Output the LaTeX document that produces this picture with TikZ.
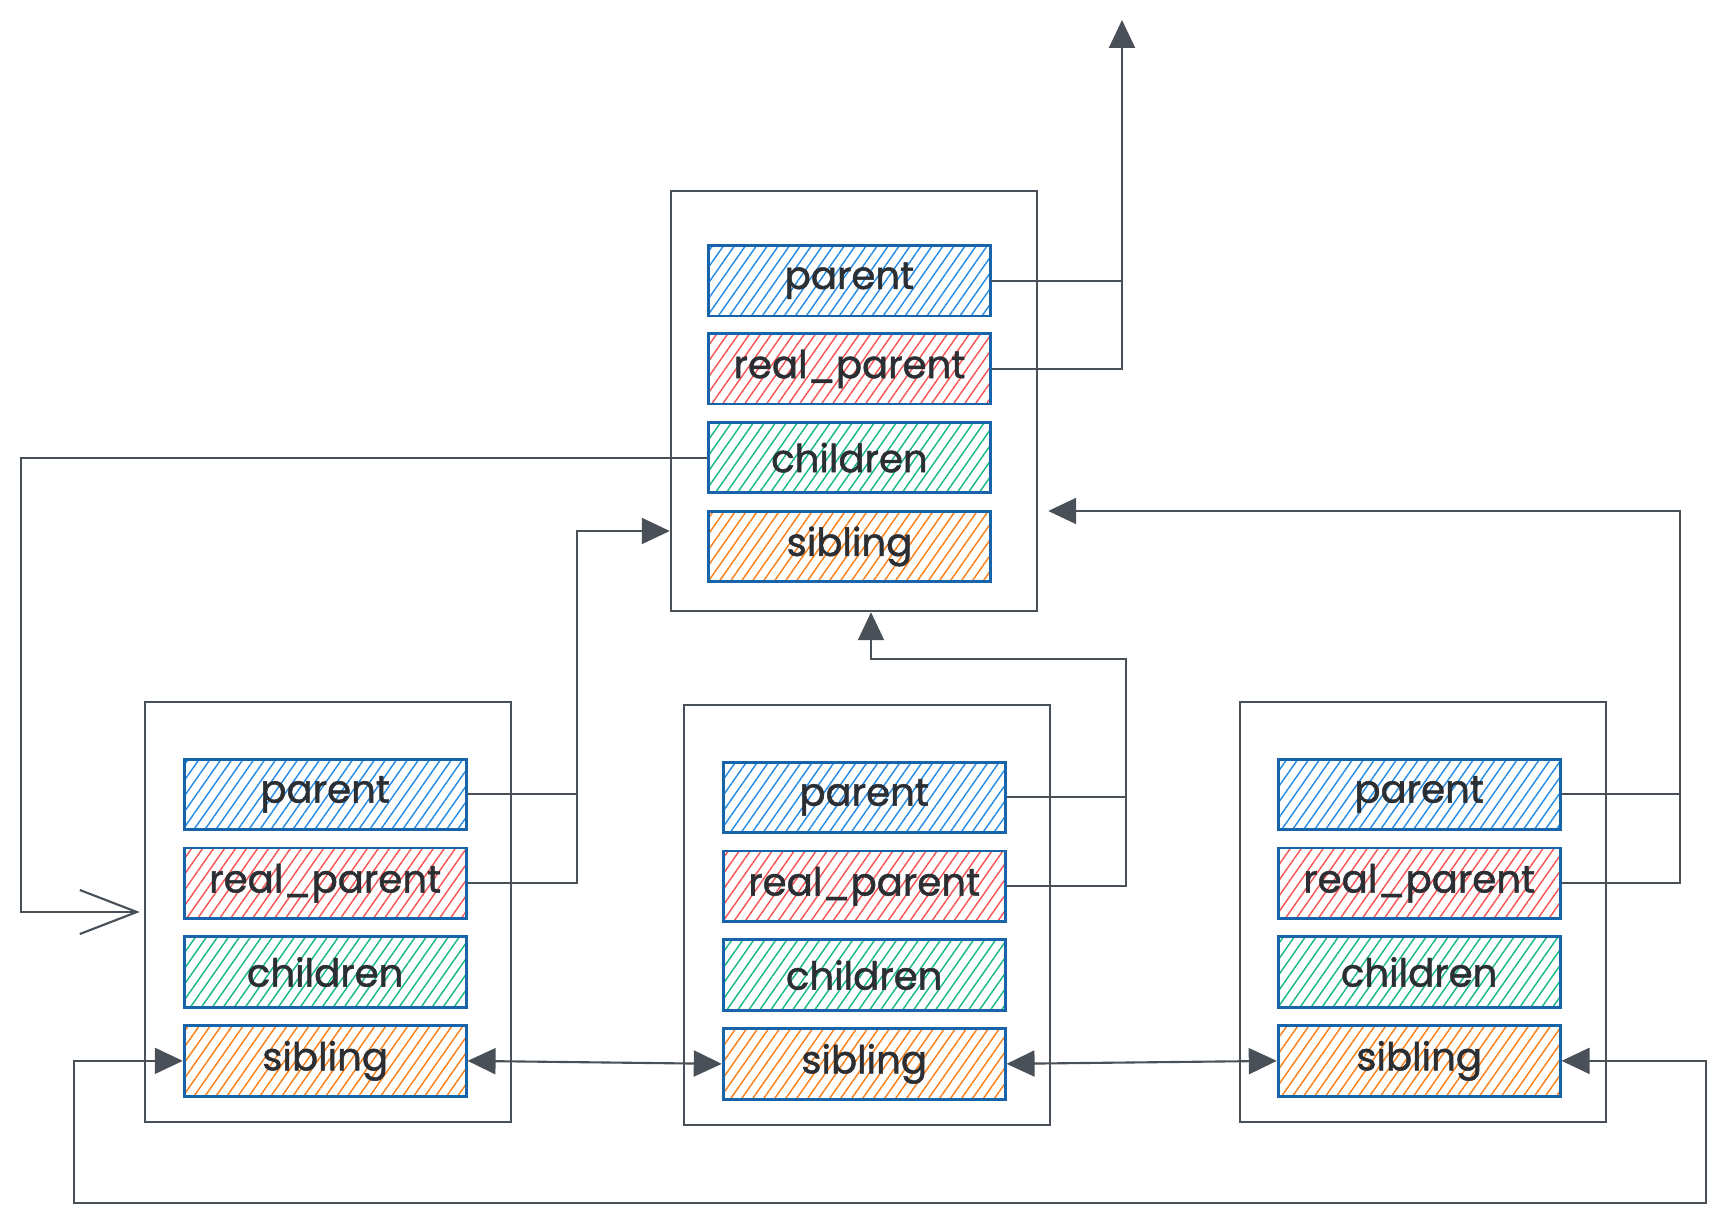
\documentclass[tikz,border=0pt]{standalone}
\usepackage{fontspec}
\setmainfont{Poppins}
\newfontfamily\fieldfont{Poppins}[FakeBold=1.2]
\usetikzlibrary{positioning,arrows.meta,patterns.meta}
\definecolor{linegray}{HTML}{495057}
\definecolor{fieldblue}{HTML}{1864AB}
\definecolor{textdark}{HTML}{2B2F33}
\definecolor{hblue}{HTML}{228BE6}
\definecolor{hred}{HTML}{FA5252}
\definecolor{hgreen}{HTML}{12B886}
\definecolor{horange}{HTML}{FD7E14}
\tikzset{box node/.style={draw=linegray,line width=0.7pt,minimum
width=36.6mm,minimum height=42mm,inner sep=0pt},
field node/.style={draw=fieldblue,line width=0.8pt,minimum width=28.2mm,
minimum height=7.05mm,inner sep=0pt,text=textdark,font=\fieldfont\fontsize{11}{13}\selectfont},
hatch/.style={pattern={Lines[angle=55,distance=0.9mm,line width=0.4pt]},
pattern color=#1},
conn/.style={draw=linegray,line width=0.6pt},
arr/.style={-{Triangle[length=2.8mm,width=2.6mm]}},
both/.style={{Triangle[length=2.8mm,width=2.6mm]}-{Triangle[length=2.8mm,width=2.6mm]}}}

\begin{document}
\begin{tikzpicture}[x=0.1mm,y=-0.1mm]
\path[use as bounding box,fill=white] (0,0) rectangle (1728,1232);
\node[box node] (t) at (854,401) {};
\node[box node] (l) at (328,912) {};
\node[box node] (m) at (867,915) {};
\node[box node] (r) at (1423,912) {};

\node[field node,hatch=hblue] (tp) [below right=5.5mm and 3.8mm of t.north west] {parent};
\node[field node,hatch=hred] (tr) [below=1.55mm of tp] {real\_parent};
\node[field node,hatch=hgreen] (tc) [below=1.55mm of tr] {children};
\node[field node,hatch=horange] (ts) [below=1.55mm of tc] {sibling};

\node[field node,hatch=hblue] (lp) [below right=5.7mm and 3.9mm of l.north west] {parent};
\node[field node,hatch=hred] (lr) [below=1.55mm of lp] {real\_parent};
\node[field node,hatch=hgreen] (lc) [below=1.55mm of lr] {children};
\node[field node,hatch=horange] (ls) [below=1.55mm of lc] {sibling};

\node[field node,hatch=hblue] (mp) [below right=5.7mm and 3.9mm of m.north west] {parent};
\node[field node,hatch=hred] (mr) [below=1.55mm of mp] {real\_parent};
\node[field node,hatch=hgreen] (mc) [below=1.55mm of mr] {children};
\node[field node,hatch=horange] (ms) [below=1.55mm of mc] {sibling};

\node[field node,hatch=hblue] (rp) [below right=5.7mm and 3.8mm of r.north west] {parent};
\node[field node,hatch=hred] (rr) [below=1.55mm of rp] {real\_parent};
\node[field node,hatch=hgreen] (rc) [below=1.55mm of rr] {children};
\node[field node,hatch=horange] (rs) [below=1.55mm of rc] {sibling};

\coordinate (up) at (1122,20);
\coordinate (lv) at (577,531);
\coordinate (mv) at (1126,659);
\coordinate (rv) at (1680,511);
\coordinate (br) at (1706,1203);
\coordinate (bl) at (74,1203);

\draw[conn] (tp.east) -- (tp.east -| up);
\draw[conn,arr] (tr.east) -| (up);
\draw[conn,-{Straight Barb[length=5.7mm,width=4.4mm]}]
(tc.west) -| ([xshift=-12.3mm]l.west) -- ([xshift=-0.4mm]l.west);
\draw[conn] (lp.east) -- (lp.east -| lv);
\draw[conn,arr] (lr.east) -| (lv) -- (lv -| t.west);
\draw[conn] (mp.east) -- (mp.east -| mv);
\draw[conn,arr] (mr.east) -| (mv) -| ([xshift=1.7mm]t.south);
\draw[conn] (rp.east) -- (rp.east -| rv);
\draw[conn,arr] (rr.east) -| (rv) -- ([xshift=1mm]t.east |- rv);
\draw[conn,both] (ls.east) -- (ms.west);
\draw[conn,both] (ms.east) -- (rs.west);
\draw[conn,both] (rs.east) -| (br) -- (bl) |- (ls.west);
\end{tikzpicture}
\end{document}
